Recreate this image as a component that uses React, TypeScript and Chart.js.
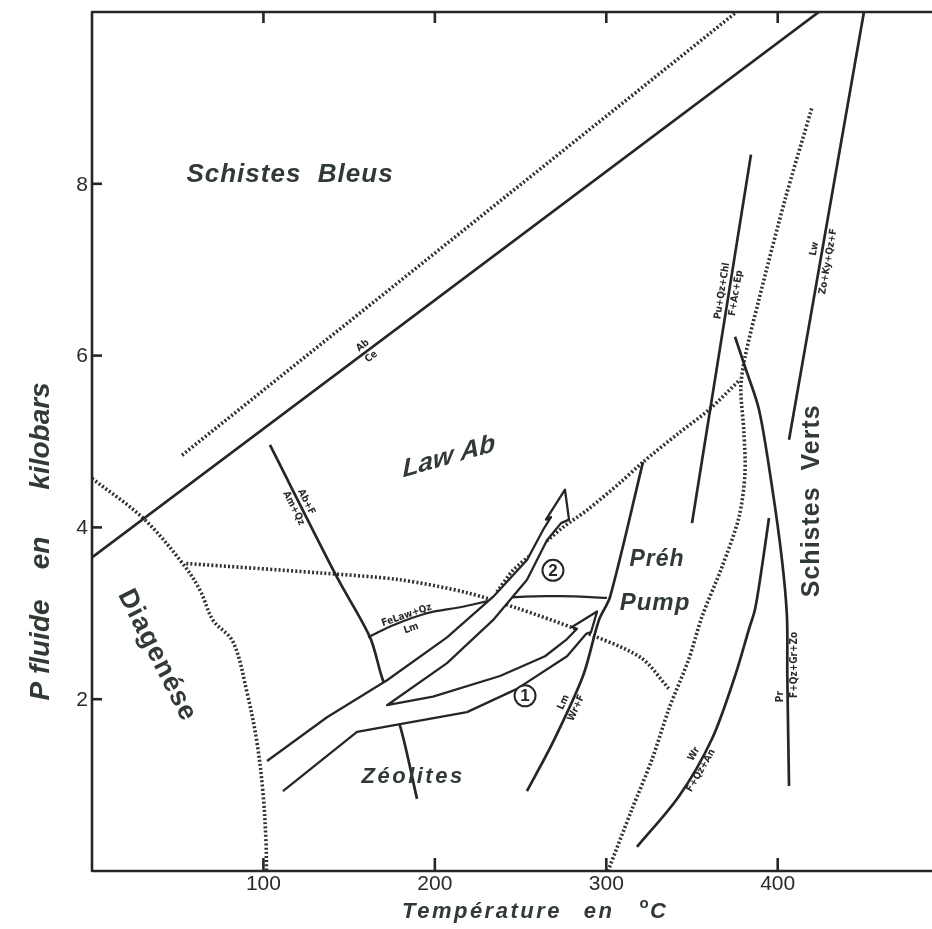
import React, { useEffect, useRef } from "react";
import { Chart, registerables } from "chart.js";

Chart.register(...registerables);

// ---- axis ticks ----
const xTicks = [100, 200, 300, 400];
const yTicks = [2, 4, 6, 8];

// ---- solid reaction boundaries: [T °C, P kbar] ----
const abCeLine = [[0, 3.65], [424, 10]];
const abFAmQzLine = [[103.8, 4.96], [142.9, 3.42], [162.2, 2.72], [169.2, 2.25], [179.7, 1.69], [189.6, 0.84]];
const feLawLmLine = [[161, 2.72], [175.6, 2.86], [195.4, 3.0], [214.7, 3.07], [242.1, 3.18], [273, 3.2], [300.4, 3.18]];
const lmWrLine = [[253.7, 0.93], [268.9, 1.5], [286.4, 2.27], [295.7, 2.92], [302.2, 3.19], [321.4, 4.76]];
const puQzChlLine = [[350, 4.05], [384.4, 8.34]];
const lwZoKyLine = [[406.6, 5.02], [450.3, 10]];
const prZoLine = [[375.1, 6.22], [380.9, 5.87], [389.1, 5.37], [396.7, 4.47], [402.5, 3.62], [405.4, 2.96], [405.6, 2.27], [406.6, 0.99]];
const wrAnLine = [[317.9, 0.28], [342.4, 0.87], [361.7, 1.54], [375.1, 2.27], [383.3, 2.82], [386.8, 3.05], [390.8, 3.54], [394.9, 4.11]];

// ---- dotted facies limits ----
const blueschistDotted = [[52.5, 4.84], [376, 10]];
const diagenesisDotted = [[0, 4.57], [29.7, 4.11], [52.5, 3.59], [63, 3.27], [70.6, 2.92], [82.2, 2.67], [90.4, 2.08], [96.2, 1.5], [99.7, 0.92], [101.5, 0.34], [101.8, 0]];
const zeoliteDotted = [[55, 3.58], [133, 3.47], [179.7, 3.39], [218.7, 3.24], [247.9, 3.06], [283, 2.81], [319.7, 2.49], [336.6, 2.12]];
const prehniteDotted = [[236.2, 3.25], [245.6, 3.5], [257.2, 3.7], [274.7, 4.0], [288.7, 4.2], [308, 4.52], [320.8, 4.75], [342.4, 5.1], [359.9, 5.37], [378, 5.72]];
const greenschistDotted = [[301, 0], [315, 0.72], [326.7, 1.3], [336.6, 1.89], [348.2, 2.47], [355.8, 2.96], [367.5, 3.54], [377.4, 4.12], [380.9, 4.63], [380.3, 5.1], [378.5, 5.63], [380.9, 5.98], [389, 6.65], [404.2, 7.81], [420, 8.89]];

// ---- P-T path arrows (outline, open at the tail) ----
const arrowOutline = [
  [102.1, 1.28], [121.3, 1.56], [137.1, 1.79], [172.1, 2.22], [207.1, 2.72], [233.9, 3.19], [253.75, 3.62], [263.1, 3.97],
  [267.75, 4.12], [264.8, 4.09], [275.9, 4.44], [278.25, 4.09], [273.6, 4.05],
  [265.4, 3.85], [253.75, 3.39], [233.9, 2.92], [207.1, 2.42], [172.1, 1.93],
  [198.9, 2.03], [238, 2.27], [264.25, 2.5], [277.1, 2.7],
  [282.9, 2.82], [280, 2.84], [294.6, 3.02], [291.1, 2.78], [288.2, 2.76],
  [277.1, 2.5], [247.9, 2.12], [218.75, 1.85], [179.7, 1.71], [154.6, 1.62], [111.4, 0.93],
];

// ---- facies names: [text, T, P, rotationDeg, style] ----
const faciesLabels: [string, number, number, number, string][] = [
  ["Schistes  Bleus", 115.5, 8.1, 0, "bold italic 26px 'Liberation Sans', Arial, sans-serif"],
  ["Zéolites", 187.3, 1.09, 0, "bold italic 22px 'Liberation Sans', Arial, sans-serif"],
  ["Préh", 329.6, 3.62, 0, "bold italic 23px 'Liberation Sans', Arial, sans-serif"],
  ["Pump", 328.4, 3.12, 0, "bold italic 24px 'Liberation Sans', Arial, sans-serif"],
  ["Schistes  Verts", 420, 4.31, -90, "bold 25px 'Liberation Sans', Arial, sans-serif"],
  ["Diagenése", 37.9, 2.51, 63, "bold 27px 'Liberation Sans', Arial, sans-serif"],
];

// ---- reaction labels along the lines: [text, T, P, angleDeg, side(-1 above, 1 below)] ----
const reactionLabels: [string, number, number, number, number][] = [
  ["Ab", 160.4, 6.05, -36.9, -1],
  ["Ce", 160.4, 6.05, -36.9, 1],
  ["Ab+F", 121.3, 4.26, 63, -1],
  ["Am+Qz", 121.3, 4.26, 63, 1],
  ["FeLaw+Qz", 184.9, 2.9, -19, -1],
  ["Lm", 184.9, 2.9, -19, 1],
  ["Lm", 278.8, 1.93, -65.6, -1],
  ["Wr+F", 278.8, 1.93, -65.6, 1],
  ["Pu+Qz+Chl", 371.6, 6.74, -80.9, -1],
  ["F+Ac+Ep", 371.6, 6.74, -80.9, 1],
  ["Lw", 425.5, 7.23, -80, -1],
  ["Zo+Ky+Qz+F", 425.5, 7.11, -80, 1],
  ["Pr", 405.4, 2.03, -90, -1],
  ["F+Qz+Gr+Zo", 405.4, 2.4, -90, 1],
  ["Wr", 354.7, 1.32, -60, -1],
  ["F+Qz+An", 351.7, 1.21, -60, 1],
];

// ---- circled path numbers: [label, T, P] ----
const pathMarks: [string, number, number][] = [
  ["1", 252.6, 2.04],
  ["2", 268.9, 3.5],
];

const LINE = "#262626";
const DOTS = "#303030";
const TEXT = "#323a34";

const toXY = (arr: number[][]) => arr.map(([x, y]) => ({ x, y }));

function solid(data: number[][], tension = 0.3, width = 2.7) {
  return {
    data: toXY(data),
    showLine: true,
    borderColor: LINE,
    borderWidth: width,
    pointRadius: 0,
    tension,
    fill: false,
  };
}
function dotted(data: number[][], tension = 0.3) {
  return {
    data: toXY(data),
    showLine: true,
    borderColor: DOTS,
    borderWidth: 3.6,
    borderDash: [2, 2.2],
    pointRadius: 0,
    tension,
    fill: false,
  };
}

const overlay = {
  id: "overlay",
  afterDatasetsDraw(chart: any) {
    const ctx: CanvasRenderingContext2D = chart.ctx;
    const xs = chart.scales.x;
    const ys = chart.scales.y;
    const P = (t: number, p: number) => ({ x: xs.getPixelForValue(t), y: ys.getPixelForValue(p) });
    const ca = chart.chartArea;

    ctx.save();
    // arrows: white fill, dark outline
    const pts = arrowOutline.map(([t, p]) => P(t, p));
    ctx.beginPath();
    pts.forEach((q, i) => (i ? ctx.lineTo(q.x, q.y) : ctx.moveTo(q.x, q.y)));
    ctx.closePath();
    ctx.fillStyle = "#ffffff";
    ctx.fill();
    ctx.beginPath();
    pts.forEach((q, i) => (i ? ctx.lineTo(q.x, q.y) : ctx.moveTo(q.x, q.y)));
    ctx.strokeStyle = LINE;
    ctx.lineWidth = 2.3;
    ctx.lineJoin = "round";
    ctx.stroke();

    // circled numbers
    pathMarks.forEach(([s, t, p]) => {
      const q = P(t, p);
      ctx.beginPath();
      ctx.arc(q.x, q.y, 10.5, 0, Math.PI * 2);
      ctx.fillStyle = "#fff";
      ctx.fill();
      ctx.lineWidth = 2;
      ctx.strokeStyle = LINE;
      ctx.stroke();
      ctx.fillStyle = LINE;
      ctx.font = "bold 17px 'Liberation Sans', Arial, sans-serif";
      ctx.textAlign = "center";
      ctx.textBaseline = "middle";
      ctx.fillText(s, q.x, q.y + 1);
    });

    // reaction labels
    ctx.fillStyle = "#2b2b2b";
    ctx.font = "bold 10px 'DejaVu Sans Condensed', 'Liberation Sans Narrow', sans-serif";
    reactionLabels.forEach(([s, t, p, a, side]) => {
      const q = P(t, p);
      ctx.save();
      ctx.translate(q.x, q.y);
      ctx.rotate((a * Math.PI) / 180);
      ctx.textAlign = "center";
      ctx.textBaseline = side < 0 ? "bottom" : "top";
      ctx.fillText(s, 0, side < 0 ? -2 : 2);
      ctx.restore();
    });

    // facies names
    ctx.fillStyle = TEXT;
    faciesLabels.forEach(([s, t, p, a, f]) => {
      const q = P(t, p);
      ctx.save();
      ctx.translate(q.x, q.y);
      ctx.rotate((a * Math.PI) / 180);
      ctx.font = f;
      (ctx as any).letterSpacing = s === "Zéolites" ? "2.5px" : "1px";
      ctx.textAlign = "center";
      ctx.textBaseline = "middle";
      ctx.fillText(s, 0, 0);
      ctx.restore();
    });
    (ctx as any).letterSpacing = "0px";

    // "Law Ab" : sheared italic
    {
      const q = P(208.2, 4.82);
      ctx.save();
      ctx.translate(q.x, q.y);
      ctx.transform(1, Math.tan((-16 * Math.PI) / 180), 0, 1, 0, 0);
      ctx.font = "bold italic 26px 'Liberation Sans', Arial, sans-serif";
      ctx.textAlign = "center";
      ctx.textBaseline = "middle";
      ctx.fillText("Law Ab", 0, 0);
      ctx.restore();
    }

    // axes (left, top, bottom)
    ctx.strokeStyle = LINE;
    ctx.lineWidth = 2.6;
    ctx.lineCap = "butt";
    ctx.beginPath();
    ctx.moveTo(ca.right + 2, ca.top);
    ctx.lineTo(ca.left, ca.top);
    ctx.lineTo(ca.left, ca.bottom);
    ctx.lineTo(ca.right + 2, ca.bottom);
    ctx.stroke();

    xTicks.forEach((v) => {
      const x = xs.getPixelForValue(v);
      ctx.beginPath();
      ctx.moveTo(x, ca.top);
      ctx.lineTo(x, ca.top + 11);
      ctx.moveTo(x, ca.bottom);
      ctx.lineTo(x, ca.bottom - 13);
      ctx.stroke();
    });
    yTicks.forEach((v) => {
      const y = ys.getPixelForValue(v);
      ctx.beginPath();
      ctx.moveTo(ca.left, y);
      ctx.lineTo(ca.left + 10, y);
      ctx.stroke();
    });

    ctx.fillStyle = "#2a2a2a";
    ctx.font = "21px 'Liberation Sans', Arial, sans-serif";
    ctx.textAlign = "center";
    ctx.textBaseline = "top";
    xTicks.forEach((v) => ctx.fillText(String(v), xs.getPixelForValue(v), ca.bottom + 3));
    ctx.textAlign = "right";
    ctx.textBaseline = "middle";
    yTicks.forEach((v) => ctx.fillText(String(v), ca.left - 4, ys.getPixelForValue(v) + 1));

    // axis titles
    ctx.fillStyle = TEXT;
    ctx.font = "bold italic 22px 'Liberation Sans', Arial, sans-serif";
    (ctx as any).letterSpacing = "2.5px";
    ctx.textAlign = "center";
    ctx.textBaseline = "alphabetic";
    ctx.fillText("Température", 482, 918);
    ctx.fillText("en", 599, 918);
    (ctx as any).letterSpacing = "0px";
    ctx.font = "bold 15px 'Liberation Sans', Arial, sans-serif";
    ctx.fillText("o", 644, 908);
    ctx.font = "bold italic 22px 'Liberation Sans', Arial, sans-serif";
    ctx.textAlign = "left";
    ctx.fillText("C", 650, 918);

    ctx.font = "bold italic 28px 'Liberation Sans', Arial, sans-serif";
    ctx.textAlign = "center";
    ctx.textBaseline = "middle";
    ([
      ["P fluide", 650],
      ["en", 553],
      ["kilobars", 436],
    ] as [string, number][]).forEach(([s, y]) => {
      ctx.save();
      ctx.translate(41, y);
      ctx.rotate(-Math.PI / 2);
      ctx.fillText(s, 0, 0);
      ctx.restore();
    });

    ctx.restore();
  },
};

export default function App() {
  const ref = useRef<HTMLCanvasElement | null>(null);
  useEffect(() => {
    if (!ref.current) return;
    const chart = new Chart(ref.current, {
      type: "scatter",
      data: {
        datasets: [
          solid(abCeLine, 0),
          solid(abFAmQzLine, 0.3),
          solid(feLawLmLine, 0.4, 2.2),
          solid(lmWrLine, 0.3),
          solid(puQzChlLine, 0),
          solid(lwZoKyLine, 0),
          solid(prZoLine, 0.3),
          solid(wrAnLine, 0.3),
          dotted(blueschistDotted, 0),
          dotted(diagenesisDotted, 0.35),
          dotted(zeoliteDotted, 0.3),
          dotted(prehniteDotted, 0.3),
          dotted(greenschistDotted, 0.3),
        ] as any,
      },
      options: {
        animation: false,
        responsive: true,
        maintainAspectRatio: false,
        layout: { padding: { left: 92, top: 12, right: 0, bottom: 58 } },
        plugins: { legend: { display: false }, tooltip: { enabled: false } },
        scales: {
          x: { type: "linear", min: 0, max: 490, display: false },
          y: { type: "linear", min: 0, max: 10, display: false },
        },
      },
      plugins: [overlay],
    });
    return () => chart.destroy();
  }, []);
  return (
    <div style={{ position: "absolute", left: 0, top: 0, width: 932, height: 929, background: "#ffffff" }}>
      <canvas ref={ref} />
    </div>
  );
}
